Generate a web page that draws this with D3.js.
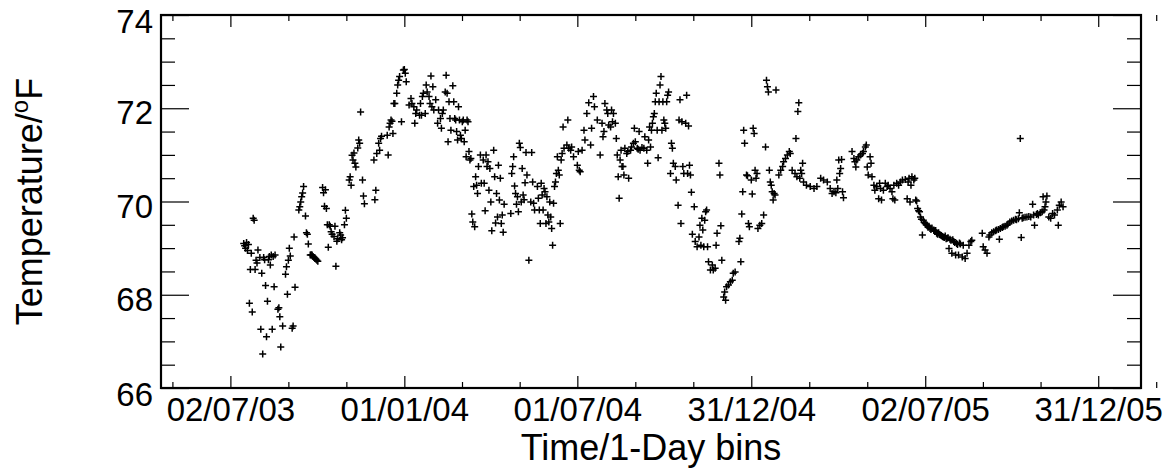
<!DOCTYPE html>
<html>
<head>
<meta charset="utf-8">
<script src="https://cdn.jsdelivr.net/npm/d3@7"></script>
<style>
  body { margin: 0; background: #fff; }
  svg { display: block; font-family: "Liberation Sans", Arial, sans-serif; }
</style>
</head>
<body>
<svg></svg>
<script>
// day offsets are counted from startDate, values in degrees F
const startDate = "2003-07-02";
const tickLabels = ["02/07/03", "01/01/04", "01/07/04", "31/12/04", "02/07/05", "31/12/05"];
const yTicks = [66, 68, 70, 72, 74];

const summer2003 = [
  [14,69.10],[15,69.05],[16,69.00],[17,69.12],[18,68.95],[19,69.08],[20,67.82],[21,68.54],[22,68.89],
  [23,67.63],[24,69.64],[25,69.60],[26,68.54],[27,68.74],[28,68.68],[29,68.96],[31,68.80],[32,67.26],
  [33,68.46],[34,66.73],[35,68.80],[36,68.75],[37,68.20],[38,67.10],[39,67.86],[40,68.75],[41,68.82],
  [42,68.64],[43,68.85],[44,67.26],[45,68.82],[46,68.17],[47,68.85],[50,67.69],[51,67.72],[52,67.53],
  [53,66.88],[55,67.33],[58,68.44],[59,68.60],[60,68.01],[61,68.74],[62,69.00],[63,68.83],[65,67.28],
  [66,67.33],[67,69.24],[68,68.16],[72,69.82],[73,69.89],[74,69.99],[75,70.10],[76,70.18],[77,70.32],
  [79,69.69],[80,69.33],[81,69.30],[82,69.09],[84,68.85],[85,68.86],[86,68.85],[87,68.82],[88,68.80],
  [89,68.78],[90,68.76],[91,68.74],[92,68.72]
];

const autumn2003 = [
  [97,70.30],[98,70.19],[99,69.90],[100,70.25],[101,69.85],[102,69.50],[103,69.02],[104,69.50],[105,69.47],
  [106,69.35],[107,69.30],[109,69.25],[110,69.47],[111,68.61],[112,69.15],[113,69.20],[115,69.33],[116,69.28],
  [117,69.18],[118,69.22],[120,69.50],[121,69.81],[122,69.64],[125,70.46],[126,70.53],[127,70.35],[128,70.99],
  [129,70.89],[130,71.04],[131,70.82],[132,70.74],[134,71.15],[135,71.32],[136,71.25],[137,71.92],[139,70.46],
  [140,70.12],[141,69.95],[151,70.89],[152,70.04],[153,70.24],[154,71.03],[156,71.25],[157,71.10],[158,71.35],
  [159,71.40],[165,71.42],[166,71.00],[167,71.60],[168,71.68],[169,71.75],[170,71.72],[171,71.46],[172,72.10],
  [173,72.10],[175,72.32],[176,72.50],[177,72.60],[178,72.68],[180,71.71],[182,72.82],[183,72.83],[184,72.75],
  [185,72.57]
];

const spring2004 = [
  [188,72.07],[190,72.21],[191,72.10],[193,72.03],[194,71.68],[195,71.89],[196,71.96],[199,71.85],[200,72.10],
  [201,71.85],[202,72.25],[203,72.32],[205,71.89],[206,72.50],[207,72.35],[209,72.25],[210,72.10],[211,72.69],
  [212,72.03],[213,72.46],[214,71.96],[216,72.18],[218,71.68],[219,71.96],[221,71.78],[222,71.57],[223,71.89],
  [224,71.96],[226,72.35],[227,72.71],[228,72.32],[229,71.28],[230,72.14],[231,71.78],[232,71.53],[234,72.48],
  [235,72.14],[236,71.78],[237,71.75],[238,71.50],[239,71.32],[240,72.03],[241,71.75],[242,71.42],[243,71.35],
  [244,71.71],[245,71.75],[246,71.28],[247,71.53],[248,70.96],[249,71.75],[250,71.71],[251,71.07],[252,70.89],
  [253,70.92],[254,69.73],[255,69.56],[256,70.32],[257,69.46],[258,70.53],[259,70.35],[260,70.17],[261,70.75],
  [263,71.00],[264,70.39],[266,70.89],[267,70.39],[268,69.80],[269,71.00],[270,70.75],[271,70.85],[272,70.24],
  [273,70.71],[274,69.99],[275,69.37],[277,71.10],[278,70.53],[279,69.54],[280,70.17],[281,69.67],[282,70.78],
  [283,70.03],[284,70.50],[285,69.53],[286,69.71],[287,69.34],[288,69.94],[295,69.74],[296,70.60],[297,70.75],
  [298,70.96],[299,70.33],[300,70.17],[301,69.94],[302,70.10],[303,69.78],[304,71.25],[305,71.16],[306,69.99],
  [307,70.71],[308,70.14],[309,70.04],[310,70.40],[311,71.05],[312,70.57],[314,68.74],[316,69.99],[317,71.05],
  [318,70.42],[319,69.96],[320,69.82],[323,70.32],[324,70.07],[325,69.82],[326,69.53],[327,70.39],[328,70.14],
  [329,69.82],[330,70.28],[331,70.21],[332,69.53],[333,70.10],[334,69.71],[335,69.56],[336,69.99],[337,69.67],
  [338,69.42],[339,69.06],[340,69.96],[341,70.32],[342,70.42],[343,70.60],[344,70.96],[345,70.67],[346,70.57],
  [347,69.53],[348,70.89],[349,71.03],[350,71.60],[351,71.14],[354,71.21],[355,71.75],[356,71.14],[358,71.10],
  [359,71.17],[361,70.96],[365,70.78],[366,71.07],[367,70.67],[368,70.64],[370,71.10],[372,71.53],[373,71.32],
  [375,71.89],[377,72.12],[379,71.21],[380,71.57],[382,72.25],[383,72.03],[386,71.75]
];

const summer2004 = [
  [389,71.00],[391,71.68],[392,71.39],[393,71.50],[394,72.10],[396,71.96],[397,71.89],[398,71.64],[400,71.60],
  [401,71.96],[402,71.71],[403,71.89],[405,71.68],[406,71.35],[407,71.00],[408,70.53],[409,70.07],[410,70.89],
  [411,71.10],[412,70.75],[413,70.75],[414,70.57],[415,71.14],[417,71.03],[418,71.07],[419,70.50],[421,71.10],
  [422,71.17],[424,71.25],[425,71.57],[426,71.28],[428,71.14],[429,71.12],[430,71.50],[431,71.10],[433,71.16],
  [435,71.14],[436,71.39],[438,71.10],[439,70.82],[440,71.32],[441,71.60],[442,71.17],[443,71.53],[444,71.68],
  [445,71.82],[446,71.89],[447,72.14],[448,72.32],[449,71.53],[450,70.94],[451,72.14],[452,72.50],[453,72.68],
  [454,71.53],[455,72.14],[456,71.75],[457,71.68],[458,71.57],[459,72.14],[460,72.28],[461,72.35],[463,70.60],
  [464,71.25],[465,71.14],[466,70.82],[468,70.75],[469,70.46],[471,69.92],[472,71.75],[473,72.18],[474,69.53],
  [475,71.71],[476,70.75],[477,70.60],[479,71.68],[480,72.28],[481,70.60],[482,71.62],[483,70.78],[484,70.57],
  [485,70.20],[486,69.30],[488,69.89],[489,69.14],[491,69.03],[493,69.24],[494,69.49],[495,69.06],[496,69.64],
  [497,69.39],[498,69.03],[499,69.60],[500,69.78],[501,69.82],[502,69.03],[503,68.71],[505,68.53],[507,68.64],
  [508,68.53],[510,68.57],[511,69.06],[512,69.32],[514,70.82],[515,70.57],[516,69.48],[517,68.74],[519,67.95],
  [520,68.06],[521,67.88],[522,68.17],[524,68.21],[526,68.28],[528,68.31],[529,68.46],[531,68.49],[535,69.14],
  [536,69.21],[537,68.71],[538,69.73],[539,70.21],[540,71.53],[541,71.25],[543,70.57],[544,70.55],[545,69.53],
  [546,69.46],[548,70.46],[549,70.16],[550,71.57],[551,71.46],[552,70.67],[553,70.50],[554,70.60],[555,69.42],
  [557,69.49],[559,69.53],[561,69.71],[563,71.17],[564,72.60],[565,72.46],[566,72.35],[567,70.67],[568,70.42],
  [569,70.35],[570,70.21],[571,70.03],[572,70.17],[573,70.14],[574,72.39],[577,70.57],[579,70.67],[581,70.75],
  [582,70.85],[584,70.92],[586,71.00],[588,71.07],[589,71.03],[591,70.67],[594,70.60],[595,71.35],[596,70.53],
  [597,71.93],[598,72.12]
];

const winter2005 = [
  [599,70.50],[600,70.67],[601,70.60],[602,70.82],[603,70.42],[606,70.35],[610,70.32],[614,70.28],[617,70.32],
  [621,70.50],[624,70.46],[628,70.42],[631,70.28],[633,70.17],[635,70.21],[637,70.19],[638,70.46],[639,70.28],
  [640,70.89],[641,70.60],[642,70.71],[643,70.90],[644,70.21],[645,70.08],[654,71.07],[656,70.92],[657,70.85],
  [658,70.74],[659,70.89],[661,70.96],[663,71.00],[665,71.03],[666,71.07],[668,71.17],[669,71.21],[670,70.74],
  [671,70.57],[673,70.96],[674,70.82],[675,70.53],[677,70.35],[678,70.24],[680,70.32],[682,70.06],[683,70.39],
  [684,70.28],[685,70.03],[687,70.24],[689,70.39],[691,70.32],[692,70.35],[694,70.28],[696,70.21],[697,70.06],
  [698,70.35],[699,70.03],[701,70.39],[703,70.35],[705,70.42],[707,70.46],[710,70.47],[712,70.06],[713,70.42],
  [714,70.50],[715,69.99],[716,70.35],[717,70.53],[719,70.46],[720,70.50],[721,70.03],[722,70.01]
];

const summer2005 = [
  [723,69.85],[724,69.80],[725,69.78],[726,69.67],[727,69.62],[728,69.28],[729,69.60],[730,69.55],[731,69.53],
  [732,69.50],[733,69.49],[734,69.45],[735,69.47],[736,69.42],[737,69.40],[738,69.43],[740,69.39],[741,69.36],
  [742,69.38],[743,69.32],[744,69.30],[745,69.33],[746,69.29],[747,69.28],[748,69.27],[749,69.25],[750,69.24],
  [751,69.23],[752,69.26],[753,69.20],[754,69.21],[755,69.22],[756,68.99],[757,69.19],[758,69.17],[759,68.89],
  [760,69.18],[761,69.14],[762,69.12],[763,68.85],[764,69.10],[765,69.08],[766,68.85],[767,69.11],[768,69.09],
  [770,68.81],[771,69.06],[773,68.78],[775,68.89],[777,69.06],[779,69.14],[780,69.17]
];

const autumn2005 = [
  [791,69.32],[792,69.03],[794,68.96],[796,68.89],[798,69.24],[799,69.28],[801,69.33],[803,69.35],[805,69.37],
  [806,69.39],[808,69.40],[809,69.19],[810,69.42],[812,69.44],[813,69.46],[815,69.47],[817,69.49],[818,69.52],
  [820,69.56],[822,69.58],[824,69.60],[826,69.62],[827,69.61],[829,69.63],[830,69.76],[831,71.35],[832,69.23],
  [833,69.64],[834,69.65],[836,69.66],[838,69.67],[840,69.68],[842,69.67],[844,69.94],[845,69.71],[846,69.49],
  [848,69.72],[849,69.74],[850,69.71],[852,69.76],[854,69.78],[855,70.10],[856,69.82],[857,69.89],[858,69.99],
  [859,70.12],[861,69.67],[863,69.64],[865,69.74],[867,69.71],[870,69.82],[871,69.49],[872,69.92],[874,69.99],
  [876,69.89]
];

const width = 1167;
const height = 471;
const margin = { top: 15, right: 26, bottom: 83, left: 161 };

const svg = d3.select("svg")
    .attr("width", width)
    .attr("height", height);

const t0 = d3.timeParse("%Y-%m-%d")(startDate);
const parseLabel = d3.timeParse("%d/%m/%y");

const points = [].concat(summer2003, autumn2003, spring2004, summer2004, winter2005, summer2005, autumn2005)
    .map(([day, temp]) => ({ date: d3.timeDay.offset(t0, day), temp }));

const x = d3.scaleTime()
    .domain([d3.timeDay.offset(t0, -73), d3.timeDay.offset(t0, 958)])
    .range([margin.left, width - margin.right]);

const y = d3.scaleLinear()
    .domain([66, 74])
    .range([height - margin.bottom, margin.top]);

// ROOT style: 3 minor divisions between labelled ticks
const majorDates = tickLabels.map(parseLabel);
const minorDates = [];
const step = (majorDates[1] - majorDates[0]) / 3;
minorDates.push(new Date(+majorDates[0] - step));
for (let i = 0; i < majorDates.length - 1; i++) {
  const s = (majorDates[i + 1] - majorDates[i]) / 3;
  minorDates.push(new Date(+majorDates[i] + s), new Date(+majorDates[i] + 2 * s));
}
minorDates.push(new Date(+majorDates[majorDates.length - 1] + step));

const yMinor = d3.range(66.5, 74, 0.5).filter(v => v % 2 !== 0);

const bottom = height - margin.bottom;
const right = width - margin.right;

function styleAxis(g) {
  g.select(".domain").remove();
  g.selectAll(".tick line").attr("stroke", "#000").attr("stroke-width", 1.2);
  g.selectAll("text")
    .attr("fill", "#000")
    .attr("font-size", 33)
    .attr("font-family", "Liberation Sans, Arial, sans-serif");
}

svg.append("g")
    .attr("transform", `translate(0,${bottom})`)
    .call(d3.axisBottom(x).tickValues(majorDates).tickSize(-12).tickPadding(10)
      .tickFormat((d, i) => tickLabels[i]))
    .call(styleAxis);

svg.append("g")
    .attr("transform", `translate(0,${bottom})`)
    .call(d3.axisBottom(x).tickValues(minorDates).tickSize(-6).tickFormat(""))
    .call(styleAxis);

svg.append("g")
    .attr("transform", `translate(0,${margin.top})`)
    .call(d3.axisTop(x).tickValues(majorDates).tickSize(-12).tickFormat(""))
    .call(styleAxis);

svg.append("g")
    .attr("transform", `translate(0,${margin.top})`)
    .call(d3.axisTop(x).tickValues(minorDates).tickSize(-6).tickFormat(""))
    .call(styleAxis);

// labels sit a little below their ticks, the end ones a bit more
svg.append("g")
    .attr("transform", `translate(${margin.left},0)`)
    .call(d3.axisLeft(y).tickValues(yTicks).tickSize(-28).tickPadding(8).tickFormat(d3.format("d")))
    .call(styleAxis)
    .call(g => g.selectAll(".tick text").attr("y", d => (d === 66 || d === 74) ? 7 : 5));

svg.append("g")
    .attr("transform", `translate(${margin.left},0)`)
    .call(d3.axisLeft(y).tickValues(yMinor).tickSize(-14).tickFormat(""))
    .call(styleAxis);

svg.append("g")
    .attr("transform", `translate(${right},0)`)
    .call(d3.axisRight(y).tickValues(yTicks).tickSize(-28).tickFormat(""))
    .call(styleAxis);

svg.append("g")
    .attr("transform", `translate(${right},0)`)
    .call(d3.axisRight(y).tickValues(yMinor).tickSize(-14).tickFormat(""))
    .call(styleAxis);

// frame
svg.append("rect")
    .attr("x", margin.left)
    .attr("y", margin.top)
    .attr("width", right - margin.left)
    .attr("height", bottom - margin.top)
    .attr("fill", "none")
    .attr("stroke", "#000")
    .attr("stroke-width", 2.2);

// markers
svg.append("g")
    .selectAll("path")
    .data(points)
    .enter().append("path")
    .attr("transform", d => `translate(${x(d.date)},${y(d.temp)})`)
    .attr("d", "M-3.5,0H3.5M0,-3.5V3.5")
    .attr("stroke", "#000")
    .attr("stroke-width", 1.5)
    .attr("fill", "none");

// axis titles
svg.append("text")
    .attr("x", (margin.left + right) / 2)
    .attr("y", 460)
    .attr("text-anchor", "middle")
    .attr("font-size", 36)
    .text("Time/1-Day bins");

const yTitle = svg.append("text")
    .attr("transform", `translate(42,${(margin.top + bottom) / 2}) rotate(-90)`)
    .attr("text-anchor", "middle")
    .attr("font-size", 36);
yTitle.append("tspan").text("Temperature/");
yTitle.append("tspan").attr("font-size", 24).attr("dy", -14).text("o");
yTitle.append("tspan").attr("dy", 14).text("F");
</script>
</body>
</html>
